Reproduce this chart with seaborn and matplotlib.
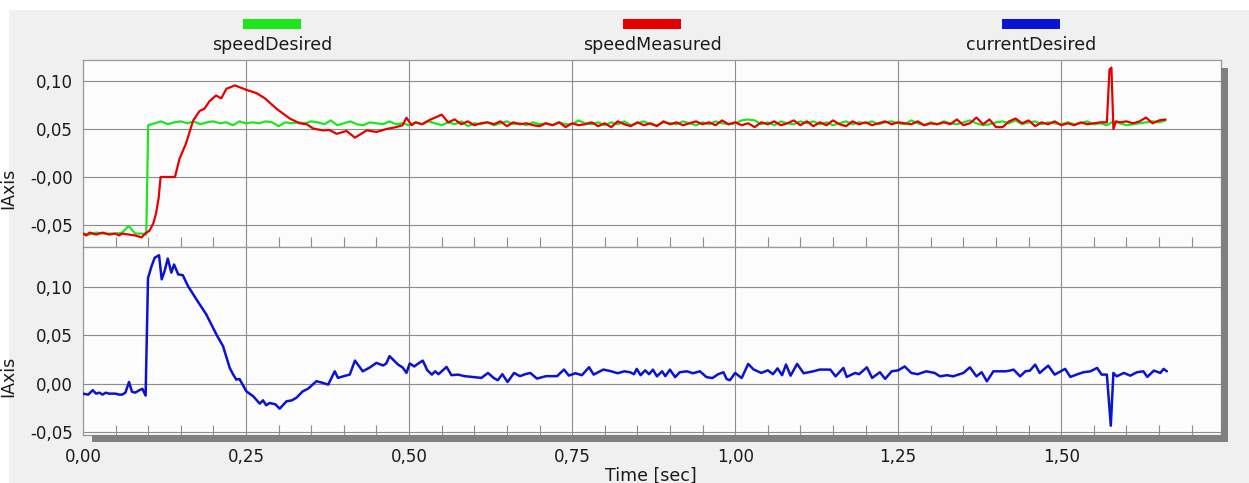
import numpy as np
import matplotlib
matplotlib.use("Agg")
import matplotlib.pyplot as plt
from matplotlib.patches import Rectangle
from matplotlib.ticker import MultipleLocator, FixedLocator, FixedFormatter
import seaborn as sns

series_names = ["speedDesired", "speedMeasured", "currentDesired"]
series_colors = ["#1ee61e", "#e80000", "#0a12d4"]

# speedDesired (green)
time_sd = [0.00, 0.01, 0.02, 0.03, 0.04, 0.05, 0.06, 0.07, 0.08, 0.09, 0.097, 0.100] \
    + list(np.round(np.arange(0.11, 1.665, 0.01), 2))
speed_desired = [
    -0.059, -0.060, -0.058, -0.059, -0.059, -0.059, -0.058, -0.051, -0.059, -0.059, -0.060, 0.054,
    0.056, 0.058, 0.055, 0.057, 0.058, 0.056, 0.058, 0.055, 0.057, 0.058,
    0.056, 0.057, 0.054, 0.058, 0.056, 0.057, 0.056, 0.058, 0.057, 0.053,
    0.057, 0.056, 0.057, 0.056, 0.058, 0.057, 0.055, 0.059, 0.054, 0.056,
    0.058, 0.055, 0.054, 0.057, 0.056, 0.055, 0.058, 0.055, 0.056, 0.054,
    0.057, 0.055, 0.058, 0.056, 0.054, 0.057, 0.055, 0.058, 0.053, 0.056,
    0.055, 0.057, 0.054, 0.056, 0.058, 0.055, 0.056, 0.054, 0.057, 0.055,
    0.056, 0.054, 0.057, 0.055, 0.055, 0.059, 0.056, 0.055, 0.057, 0.054,
    0.057, 0.055, 0.058, 0.054, 0.056, 0.058, 0.055, 0.054, 0.057, 0.056,
    0.055, 0.058, 0.056, 0.054, 0.057, 0.055, 0.058, 0.056, 0.055, 0.056,
    0.059, 0.060, 0.059, 0.055, 0.057, 0.054, 0.058, 0.056, 0.055, 0.058,
    0.056, 0.058, 0.055, 0.057, 0.054, 0.056, 0.058, 0.055, 0.057, 0.056,
    0.058, 0.055, 0.057, 0.058, 0.056, 0.055, 0.059, 0.056, 0.054, 0.057,
    0.055, 0.058, 0.056, 0.055, 0.057, 0.059, 0.056, 0.054, 0.055, 0.057,
    0.058, 0.056, 0.059, 0.055, 0.057, 0.058, 0.055, 0.057, 0.056, 0.055,
    0.057, 0.055, 0.056, 0.058, 0.055, 0.056, 0.054, 0.058, 0.056, 0.054,
    0.055, 0.056, 0.057, 0.058, 0.057, 0.059,
]

# speedMeasured (red)
time_sm = [0.000, 0.005, 0.010, 0.020, 0.030, 0.040, 0.050, 0.055, 0.060, 0.070,
           0.080, 0.090, 0.095, 0.102, 0.108, 0.112, 0.116, 0.119, 0.141, 0.148,
           0.158, 0.169, 0.179, 0.186, 0.194, 0.204, 0.212, 0.220, 0.233, 0.250,
           0.266, 0.279, 0.297, 0.317, 0.332, 0.343, 0.353, 0.368, 0.378, 0.389,
           0.404, 0.417, 0.435, 0.450, 0.465, 0.480, 0.490, 0.496, 0.504] \
    + list(np.round(np.arange(0.51, 1.565, 0.01), 2)) \
    + [1.570, 1.574, 1.577, 1.580, 1.584] \
    + list(np.round(np.arange(1.59, 1.665, 0.01), 2))
speed_measured = [
    -0.059, -0.061, -0.058, -0.060, -0.058, -0.060, -0.059, -0.061, -0.059, -0.060,
    -0.061, -0.063, -0.059, -0.056, -0.048, -0.038, -0.022, 0.000, 0.000, 0.019,
    0.035, 0.059, 0.069, 0.071, 0.079, 0.085, 0.082, 0.092, 0.0955, 0.091,
    0.0875, 0.082, 0.071, 0.061, 0.056, 0.055, 0.0505, 0.0486, 0.049, 0.045,
    0.048, 0.041, 0.0486, 0.047, 0.050, 0.052, 0.054, 0.0618, 0.054,
    0.057, 0.055, 0.059, 0.062, 0.065, 0.057, 0.060, 0.055, 0.058, 0.054,
    0.056, 0.057, 0.055, 0.058, 0.053, 0.057, 0.055, 0.056, 0.054, 0.053,
    0.056, 0.054, 0.057, 0.052, 0.056, 0.054, 0.055, 0.057, 0.053, 0.056,
    0.052, 0.058, 0.055, 0.053, 0.057, 0.054, 0.056, 0.053, 0.058, 0.055,
    0.057, 0.054, 0.056, 0.058, 0.055, 0.057, 0.054, 0.059, 0.055, 0.057,
    0.054, 0.056, 0.052, 0.057, 0.055, 0.058, 0.054, 0.056, 0.059, 0.054,
    0.058, 0.053, 0.057, 0.054, 0.059, 0.055, 0.053, 0.058, 0.055, 0.057,
    0.054, 0.056, 0.058, 0.055, 0.057, 0.056, 0.055, 0.058, 0.054, 0.056,
    0.055, 0.057, 0.055, 0.060, 0.054, 0.056, 0.062, 0.055, 0.060, 0.052,
    0.052, 0.058, 0.061, 0.056, 0.059, 0.053, 0.057, 0.055, 0.058, 0.054,
    0.056, 0.054, 0.057, 0.055, 0.056, 0.057,
    0.057, 0.112, 0.114, 0.050, 0.058,
    0.057, 0.058, 0.056, 0.058, 0.062, 0.056, 0.059, 0.060,
]

# currentDesired (blue)
time_cd = [
    0.000, 0.008, 0.015, 0.020, 0.025, 0.030, 0.035, 0.040, 0.050, 0.055,
    0.060, 0.065, 0.0706, 0.075, 0.080, 0.085, 0.091, 0.096, 0.0997, 0.105,
    0.110, 0.1166, 0.1207, 0.125, 0.130, 0.1355, 0.1396, 0.146, 0.153, 0.161,
    0.174, 0.189, 0.2045, 0.2147, 0.225, 0.230, 0.235, 0.240, 0.2505, 0.261,
    0.271, 0.276, 0.281, 0.286, 0.295, 0.3016, 0.312, 0.320, 0.327, 0.337,
    0.345, 0.358, 0.368, 0.376, 0.386, 0.391, 0.400, 0.409, 0.417, 0.429,
    0.440, 0.450, 0.460, 0.465, 0.470, 0.483, 0.490, 0.496, 0.501, 0.508,
    0.514, 0.521, 0.528, 0.535, 0.540, 0.545, 0.5575, 0.565, 0.575, 0.585,
    0.600, 0.611, 0.621, 0.630, 0.636, 0.643, 0.651, 0.661, 0.670, 0.678,
    0.686, 0.696, 0.710, 0.727, 0.7375, 0.745, 0.755, 0.765, 0.776, 0.783,
    0.790, 0.798, 0.810, 0.820, 0.830, 0.839, 0.845, 0.849, 0.855, 0.862,
    0.868, 0.874, 0.880, 0.888, 0.893, 0.900, 0.908, 0.915, 0.926, 0.935,
    0.946, 0.956, 0.965, 0.974, 0.982, 0.987, 0.992, 1.000, 1.010, 1.020,
    1.028, 1.040, 1.050, 1.058, 1.065, 1.072, 1.078, 1.085, 1.095, 1.105,
    1.120, 1.130, 1.146, 1.154, 1.166, 1.171, 1.184, 1.190, 1.202, 1.210,
    1.222, 1.230, 1.240, 1.250, 1.260, 1.270, 1.280, 1.293, 1.306, 1.314,
    1.325, 1.334, 1.350, 1.360, 1.370, 1.378, 1.386, 1.396, 1.406, 1.415,
    1.421, 1.427, 1.437, 1.445, 1.452, 1.460, 1.467, 1.480, 1.490, 1.506,
    1.514, 1.525, 1.534, 1.545, 1.555, 1.562, 1.570, 1.576, 1.580, 1.585,
    1.596, 1.606, 1.616, 1.626, 1.632, 1.642, 1.652, 1.657, 1.662,
]
current_desired = [
    -0.010, -0.011, -0.0065, -0.010, -0.009, -0.011, -0.009, -0.010, -0.010, -0.011,
    -0.011, -0.009, 0.002, -0.008, -0.009, -0.007, -0.005, -0.012, 0.109, 0.121,
    0.130, 0.1325, 0.1077, 0.116, 0.129, 0.1146, 0.123, 0.1128, 0.112, 0.1008,
    0.087, 0.0716, 0.051, 0.0389, 0.0165, 0.010, 0.0045, 0.005, -0.0076, -0.0127,
    -0.0203, -0.0169, -0.022, -0.0196, -0.021, -0.0255, -0.0179, -0.017, -0.0144, -0.0076,
    -0.005, 0.0028, 0.001, -0.0007, 0.013, 0.0062, 0.008, 0.0096, 0.024, 0.013,
    0.017, 0.0217, 0.019, 0.021, 0.0286, 0.020, 0.017, 0.0114, 0.021, 0.018,
    0.021, 0.024, 0.014, 0.0096, 0.013, 0.010, 0.0175, 0.009, 0.0096, 0.008,
    0.007, 0.0062, 0.0113, 0.006, 0.0038, 0.010, 0.002, 0.0113, 0.008, 0.010,
    0.0113, 0.0055, 0.008, 0.008, 0.0148, 0.0086, 0.011, 0.009, 0.0172, 0.0096,
    0.012, 0.0148, 0.013, 0.011, 0.013, 0.012, 0.010, 0.0155, 0.009, 0.014,
    0.010, 0.0147, 0.0078, 0.013, 0.008, 0.0147, 0.007, 0.012, 0.013, 0.011,
    0.013, 0.007, 0.006, 0.010, 0.012, 0.005, 0.0038, 0.0113, 0.006, 0.0206,
    0.015, 0.0113, 0.014, 0.010, 0.016, 0.009, 0.020, 0.0085, 0.0206, 0.011,
    0.013, 0.0148, 0.0147, 0.0078, 0.0165, 0.0072, 0.0113, 0.010, 0.0171, 0.0062,
    0.012, 0.0052, 0.013, 0.014, 0.018, 0.0113, 0.010, 0.013, 0.0113, 0.0078,
    0.009, 0.0078, 0.0113, 0.0171, 0.0078, 0.012, 0.0027, 0.013, 0.013, 0.013,
    0.0137, 0.0147, 0.0078, 0.013, 0.0137, 0.0199, 0.0113, 0.0188, 0.0096, 0.0155,
    0.0072, 0.010, 0.012, 0.013, 0.0165, 0.0096, 0.0096, -0.043, 0.0113, 0.0078,
    0.0113, 0.0085, 0.012, 0.013, 0.0072, 0.0137, 0.0113, 0.0155, 0.013,
]

x_ticks = [0.00, 0.25, 0.50, 0.75, 1.00, 1.25, 1.50]
x_tick_labels = ["0,00", "0,25", "0,50", "0,75", "1,00", "1,25", "1,50"]
y_ticks = [-0.05, 0.00, 0.05, 0.10]
upper_y_labels = ["-0,05", "-0,00", "0,05", "0,10"]
lower_y_labels = ["-0,05", "0,00", "0,05", "0,10"]

sns.set_style("white")
plt.rcParams['font.family'] = ['DejaVu Sans']

W, H = 1249, 483
fig = plt.figure(figsize=(W / 100, H / 100), dpi=100, facecolor="white")

# grey panel background
fig.add_artist(Rectangle((9 / W, 0), 1, 1 - 10 / H, transform=fig.transFigure,
                         facecolor="#f0f0f0", edgecolor="none", zorder=-5))
# drop shadow of the plot box
fig.add_artist(Rectangle((92 / W, 1 - 442 / H), (1228 - 92) / W, 7 / H,
                         transform=fig.transFigure, facecolor="#808080", edgecolor="none"))
fig.add_artist(Rectangle((1221 / W, 1 - 442 / H), 7 / W, (442 - 68) / H,
                         transform=fig.transFigure, facecolor="#808080", edgecolor="none"))

left, right = 83 / W, 1221 / W
ax1 = fig.add_axes([left, 1 - 247 / H, right - left, (247 - 60) / H])
ax2 = fig.add_axes([left, 1 - 435 / H, right - left, (435 - 247) / H])

sns.lineplot(x=time_sd, y=speed_desired, ax=ax1, color=series_colors[0], lw=1.6,
             estimator=None, sort=False, zorder=3)
sns.lineplot(x=time_sm, y=speed_measured, ax=ax1, color=series_colors[1], lw=1.6,
             estimator=None, sort=False, zorder=4)
sns.lineplot(x=time_cd, y=current_desired, ax=ax2, color=series_colors[2], lw=1.8,
             estimator=None, sort=False, zorder=3)

ylims = [(-0.073, 0.122), (-0.0526, 0.141)]
for ax, ylim, ylabels in [(ax1, ylims[0], upper_y_labels), (ax2, ylims[1], lower_y_labels)]:
    ax.set_facecolor("#fcfcfc")
    ax.set_xlim(0, 1.745)
    ax.set_ylim(*ylim)
    ax.xaxis.set_major_locator(FixedLocator(x_ticks))
    ax.xaxis.set_minor_locator(MultipleLocator(0.05))
    ax.yaxis.set_major_locator(FixedLocator(y_ticks))
    ax.yaxis.set_major_formatter(FixedFormatter(ylabels))
    ax.yaxis.set_minor_locator(MultipleLocator(0.01))
    ax.grid(True, which="major", color="#8c8c8c", lw=0.8)
    ax.set_axisbelow(True)
    for s in ax.spines.values():
        s.set_color("#9a9a9a")
        s.set_linewidth(0.9)
    ax.tick_params(axis="y", which="major", direction="out", length=6, width=0.8,
                   color="#8c8c8c", pad=1.5, labelsize=12, labelcolor="#1a1a1a")
    ax.tick_params(axis="y", which="minor", direction="in", length=5.5, width=0.8,
                   color="#8c8c8c")
    ax.tick_params(axis="x", which="minor", direction="in", length=7, width=0.8,
                   color="#8c8c8c", bottom=True)
    ax.tick_params(axis="x", which="major", length=0, pad=9, labelsize=12,
                   labelcolor="#1a1a1a")
    ax.set_ylabel("IAxis", fontsize=12.5, color="#1a1a1a")
    ax.set_xlabel("")

ax1.tick_params(axis="x", labelbottom=False)
ax2.xaxis.set_major_formatter(FixedFormatter(x_tick_labels))
ax1.yaxis.set_label_coords(-0.058, 0.316)
ax2.yaxis.set_label_coords(-0.058, 0.314)

fig.text(651 / W, 1 - 476 / H, "Time [sec]", ha="center", va="center",
         fontsize=12.5, color="#1a1a1a")

# legend: colour bar above each series name
legend_centers = [272, 652, 1031]
for name, color, cx in zip(series_names, series_colors, legend_centers):
    fig.add_artist(Rectangle(((cx - 29) / W, 1 - 29 / H), 58 / W, 10 / H,
                             transform=fig.transFigure, facecolor=color, edgecolor="none"))
    fig.text(cx / W, 1 - 45 / H, name, ha="center", va="center", fontsize=12.5,
             color="#1a1a1a")

fig.savefig("out.png", dpi=100, facecolor=fig.get_facecolor())
